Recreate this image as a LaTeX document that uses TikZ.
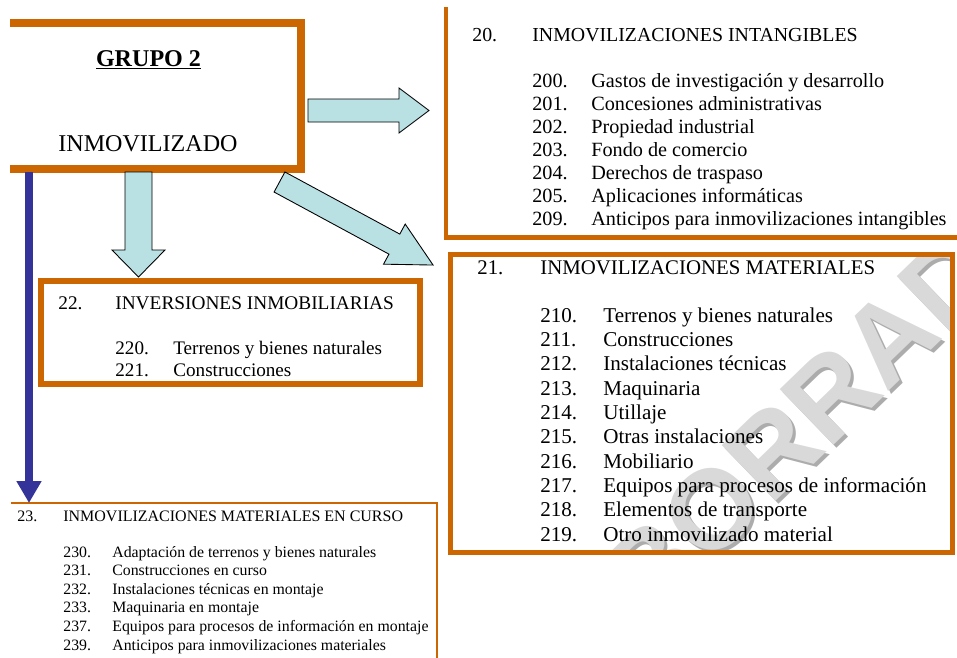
\documentclass[tikz,border=0pt]{standalone}
\usepackage{fontspec}
\setmainfont{Liberation Serif}
\setsansfont{Liberation Sans}
\usepackage{tikz}
\usetikzlibrary{arrows.meta, positioning}
\definecolor{borde}{RGB}{204,102,0}
\definecolor{flecha}{RGB}{185,224,227}
\definecolor{azul}{RGB}{51,51,153}

% flecha gruesa a lo largo del eje x: largo, medio fuste, media cabeza, largo de cabeza
\newcommand{\flechagruesa}[4]{%
    \draw[bloque] (0,-#2) -- ({#1-#4},-#2) -- ({#1-#4},-#3) -- (#1,0)
        -- ({#1-#4},#3) -- ({#1-#4},#2) -- (0,#2) -- cycle;}

\begin{document}
\begin{tikzpicture}[
    x=0.02cm, y=-0.02cm,
    marco/.style={draw=borde, line width=#1},
    caja/.style={rectangle, inner sep=0pt, outer sep=0pt},
    bloque/.style={draw=black, fill=flecha, line width=0.5pt, line join=miter},
    txt/.style={anchor=base west, inner sep=0pt},
    t20/.style={txt, font=\fontsize{11.3}{13}\selectfont},
    i20/.style={txt, font=\fontsize{11.5}{13}\selectfont},
    t21/.style={txt, font=\fontsize{11.85}{13}\selectfont},
    i21/.style={txt, font=\fontsize{12}{14}\selectfont},
    t22/.style={txt, font=\fontsize{11}{12}\selectfont},
    i22/.style={txt, font=\fontsize{10.9}{12}\selectfont},
    t23/.style={txt, font=\fontsize{9.1}{10}\selectfont},
    i23/.style={txt, font=\fontsize{9}{10}\selectfont}
]
    \useasboundingbox (0,0) rectangle (957,657);

    % recuadros
    \node[caja, minimum width=5.82cm, minimum height=2.92cm] (grupo) at (155.5,96) {};
    \node[caja, minimum width=10.23cm, minimum height=4.61cm] (caja20) at (701.25,122.25) {};
    \node[caja, minimum width=10.04cm, minimum height=5.96cm] (caja21) at (701.5,403.5) {};
    \node[caja, minimum width=7.58cm, minimum height=2.06cm] (caja22) at (230.5,332.5) {};
    \node[caja, minimum width=8.52cm, minimum height=3.24cm] (caja23) at (224,584) {};

    % marca de agua
    \begin{scope}
        \clip (caja21.north west) rectangle (caja21.south east);
        \node[rotate=44, text=gray!65, font=\sffamily\bfseries\fontsize{64}{64}\selectfont] (sombra) at (863,369) {BORRADOR};
        \node[rotate=44, text=gray!30, font=\sffamily\bfseries\fontsize{64}{64}\selectfont] (marca) at (860,366) {BORRADOR};
    \end{scope}

    \draw[marco=4.8pt] (grupo.north west) -- (grupo.north east) -- (grupo.south east) -- (grupo.south west);
    \draw[marco=2.3pt] (caja20.north west) -- (caja20.south west) -- (caja20.south east);
    \draw[marco=2.8pt] (caja21.north west) rectangle (caja21.south east);
    \draw[marco=3.4pt] (caja22.north west) rectangle (caja22.south east);
    \draw[marco=0.9pt] (caja23.north west) -- (caja23.north east) -- (caja23.south east);

    % grupo 2
    \node[anchor=base, inner sep=0pt, font=\bfseries\fontsize{13.7}{16}\selectfont] (titulo) at (148.5,66) {\underline{GRUPO 2}};
    \node[anchor=base, inner sep=0pt, font=\fontsize{13.7}{16}\selectfont] (inmov) at (148,151) {INMOVILIZADO};

    % flechas
    \begin{scope}[shift={(308,110.5)}]
        \flechagruesa{121}{11.5}{22.5}{30}
    \end{scope}
    \begin{scope}[shift={(138.5,172)}, rotate=-90]
        \flechagruesa{105}{13.5}{26.5}{27}
    \end{scope}
    \begin{scope}[shift={(279.5,182)}, rotate=-28.4]
        \flechagruesa{174.6}{11.4}{22.8}{44}
    \end{scope}

    \coordinate (bajada) at (29,172);
    \draw[azul, line width=4.6pt, -{Triangle[width=13.5pt, length=12.5pt]}] (bajada) -- (bajada |- caja23.north);

    % 20
    \node[t20] (n20) at (472,41) {20.};
    \node[t20] (h20) at (532,41) {INMOVILIZACIONES INTANGIBLES};
    \foreach \n/\t [count=\k from 0] in {200/Gastos de investigación y desarrollo,
        201/Concesiones administrativas, 202/Propiedad industrial,
        203/Fondo de comercio, 204/Derechos de traspaso,
        205/Aplicaciones informáticas, 209/Anticipos para inmovilizaciones intangibles} {
        \node[i20] (n\n) at (532,87+23*\k) {\n.};
        \node[i20] (t\n) at (591,87+23*\k) {\t};
    }

    % 21
    \node[t21] (n21) at (477,274) {21.};
    \node[t21] (h21) at (540,274) {INMOVILIZACIONES MATERIALES};
    \foreach \n/\t [count=\k from 0] in {210/Terrenos y bienes naturales,
        211/Construcciones, 212/Instalaciones técnicas, 213/Maquinaria,
        214/Utillaje, 215/Otras instalaciones, 216/Mobiliario,
        217/Equipos para procesos de información, 218/Elementos de transporte,
        219/Otro inmovilizado material} {
        \node[i21] (n\n) at (540,322+24.35*\k) {\n.};
        \node[i21] (t\n) at (603,322+24.35*\k) {\t};
    }

    % 22
    \node[t22] (n22) at (58,309) {22.};
    \node[t22] (h22) at (115,309) {INVERSIONES INMOBILIARIAS};
    \foreach \n/\t [count=\k from 0] in {220/Terrenos y bienes naturales,
        221/Construcciones} {
        \node[i22] (n\n) at (115,354+22.5*\k) {\n.};
        \node[i22] (t\n) at (173,354+22.5*\k) {\t};
    }

    % 23
    \node[t23] (n23) at (17,521) {23.};
    \node[t23] (h23) at (63,521) {INMOVILIZACIONES MATERIALES EN CURSO};
    \foreach \n/\t [count=\k from 0] in {230/Adaptación de terrenos y bienes naturales,
        231/Construcciones en curso, 232/Instalaciones técnicas en montaje,
        233/Maquinaria en montaje, 237/Equipos para procesos de información en montaje,
        239/Anticipos para inmovilizaciones materiales} {
        \node[i23] (n\n) at (63,557+18.6*\k) {\n.};
        \node[i23] (t\n) at (112,557+18.6*\k) {\t};
    }
\end{tikzpicture}
\end{document}
